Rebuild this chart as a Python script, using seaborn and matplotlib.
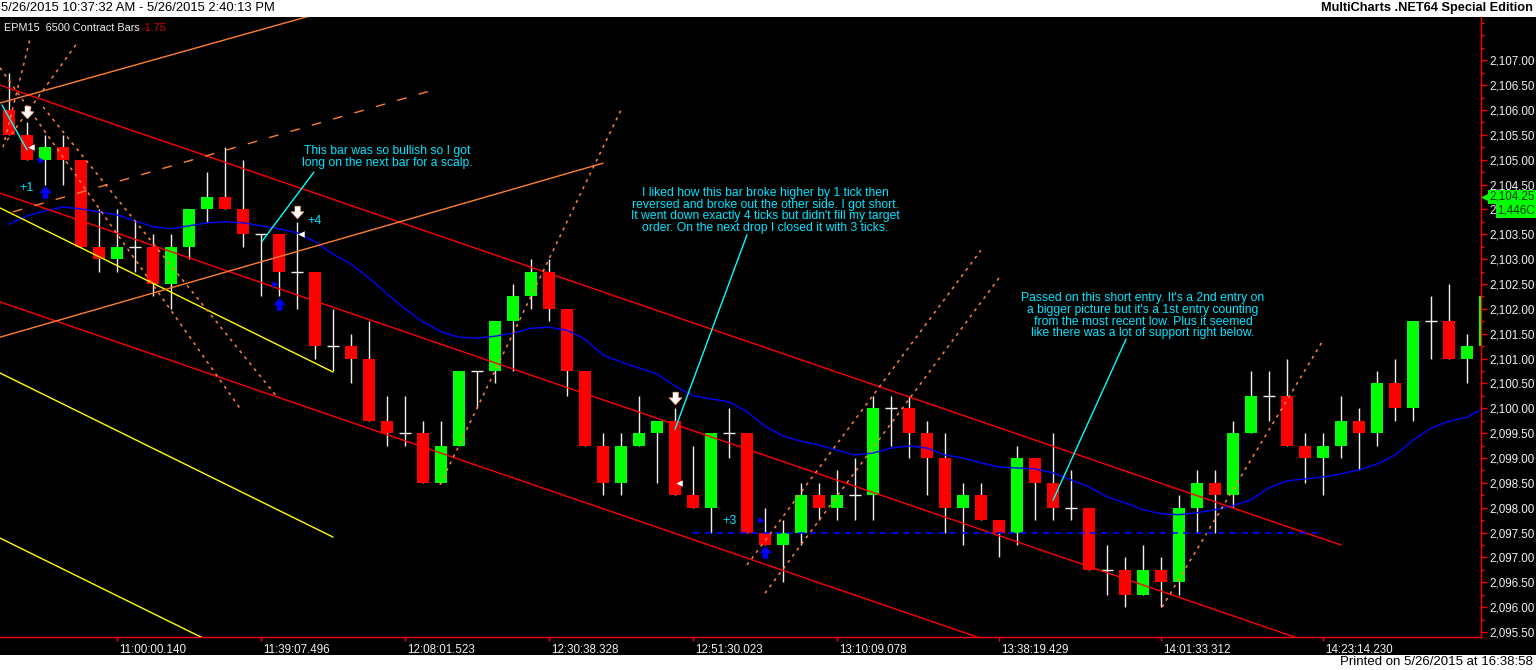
import matplotlib
matplotlib.use("Agg")
import matplotlib.pyplot as plt
import matplotlib.transforms as mtransforms
from matplotlib.patches import Rectangle
from matplotlib.ticker import FuncFormatter, MultipleLocator
import numpy as np
import pandas as pd
import seaborn as sns

# ---- EPM15 6500 contract bars ----
opens = [2106.0, 2105.5, 2105.0, 2105.25, 2105.0, 2103.25, 2103.0, 2103.25, 2103.25, 2102.5,
         2103.25, 2104.0, 2104.25, 2104.0, 2103.5, 2103.5, 2102.75, 2102.75, 2101.25, 2101.25,
         2101.0, 2099.75, 2099.5, 2099.5, 2098.5, 2099.25, 2100.75, 2100.75, 2101.75, 2102.25,
         2102.75, 2102.0, 2100.75, 2099.25, 2098.5, 2099.25, 2099.5, 2099.75, 2098.25, 2098.0,
         2099.5, 2099.5, 2097.5, 2097.25, 2097.5, 2098.25, 2098.0, 2098.25, 2098.25, 2100.0,
         2100.0, 2099.5, 2099.0, 2098.0, 2098.25, 2097.75, 2097.5, 2099.0, 2098.5, 2098.0,
         2098.0, 2096.75, 2096.75, 2096.25, 2096.75, 2096.5, 2098.0, 2098.5, 2098.25, 2099.5,
         2100.25, 2100.25, 2099.25, 2099.0, 2099.25, 2099.75, 2099.5, 2100.5, 2100.0, 2101.75,
         2101.75, 2101.0, 2101.25]
highs = [2106.75, 2105.75, 2105.5, 2105.5, 2105.0, 2104.0, 2104.0, 2103.75, 2103.5, 2103.5,
         2104.0, 2104.75, 2105.25, 2105.0, 2103.5, 2103.5, 2103.75, 2102.75, 2102.0, 2101.5,
         2101.75, 2100.25, 2100.25, 2099.75, 2099.75, 2100.75, 2100.75, 2101.75, 2102.5, 2103.0,
         2103.0, 2102.0, 2100.75, 2099.5, 2099.5, 2100.25, 2099.75, 2100.0, 2099.25, 2099.5,
         2100.0, 2099.5, 2098.0, 2097.75, 2098.5, 2098.5, 2098.75, 2099.0, 2100.25, 2100.25,
         2100.25, 2099.75, 2099.5, 2098.5, 2098.5, 2097.75, 2099.25, 2099.0, 2099.5, 2098.75,
         2098.0, 2097.25, 2097.0, 2097.25, 2097.0, 2098.25, 2098.75, 2098.75, 2099.75, 2100.75,
         2100.75, 2101.0, 2099.5, 2099.5, 2100.25, 2100.0, 2100.75, 2101.0, 2101.75, 2102.25,
         2102.5, 2101.5, 2102.25]
lows = [2105.5, 2105.0, 2104.5, 2104.5, 2103.25, 2102.75, 2102.75, 2102.75, 2102.25, 2102.0,
        2103.0, 2103.75, 2104.0, 2103.25, 2102.25, 2102.25, 2102.0, 2101.0, 2100.75, 2100.5,
        2099.75, 2099.25, 2099.25, 2098.5, 2098.5, 2099.25, 2100.0, 2100.5, 2100.75, 2102.0,
        2101.75, 2100.25, 2099.25, 2098.25, 2098.25, 2099.25, 2098.5, 2098.25, 2098.0, 2097.5,
        2099.0, 2097.5, 2097.25, 2096.5, 2097.25, 2097.75, 2097.75, 2097.75, 2097.75, 2099.25,
        2099.0, 2098.25, 2097.5, 2097.25, 2097.75, 2097.0, 2097.25, 2097.75, 2097.75, 2097.75,
        2096.75, 2096.25, 2096.0, 2096.25, 2096.0, 2096.25, 2097.5, 2097.5, 2098.0, 2099.5,
        2099.75, 2099.25, 2098.5, 2098.25, 2099.0, 2098.75, 2099.25, 2099.75, 2099.75, 2101.0,
        2101.0, 2100.5, 2101.25]
closes = [2105.5, 2105.0, 2105.25, 2105.0, 2103.25, 2103.0, 2103.25, 2103.25, 2102.5, 2103.25,
          2104.0, 2104.25, 2104.0, 2103.5, 2103.5, 2102.75, 2102.75, 2101.25, 2101.25, 2101.0,
          2099.75, 2099.5, 2099.5, 2098.5, 2099.25, 2100.75, 2100.75, 2101.75, 2102.25, 2102.75,
          2102.0, 2100.75, 2099.25, 2098.5, 2099.25, 2099.5, 2099.75, 2098.25, 2098.0, 2099.5,
          2099.5, 2097.5, 2097.25, 2097.5, 2098.25, 2098.0, 2098.25, 2098.25, 2100.0, 2100.0,
          2099.5, 2099.0, 2098.0, 2098.25, 2097.75, 2097.5, 2099.0, 2098.5, 2098.0, 2098.0,
          2096.75, 2096.75, 2096.25, 2096.75, 2096.5, 2098.0, 2098.5, 2098.25, 2099.5, 2100.25,
          2100.25, 2099.25, 2099.0, 2099.25, 2099.75, 2099.5, 2100.5, 2100.0, 2101.75, 2101.75,
          2101.0, 2101.25, 2102.25]

# moving average (blue line), one value per bar
ma_values = [2103.70, 2103.87, 2103.97, 2104.05, 2104.01, 2103.95, 2103.89, 2103.77, 2103.65, 2103.61,
             2103.67, 2103.73, 2103.75, 2103.73, 2103.67, 2103.61, 2103.53, 2103.35, 2103.10, 2102.90,
             2102.62, 2102.30, 2102.00, 2101.74, 2101.54, 2101.43, 2101.41, 2101.45, 2101.51, 2101.61,
             2101.63, 2101.57, 2101.39, 2101.07, 2100.93, 2100.81, 2100.69, 2100.45, 2100.25, 2100.19,
             2100.13, 2099.93, 2099.64, 2099.44, 2099.34, 2099.26, 2099.16, 2099.06, 2099.10, 2099.20,
             2099.24, 2099.20, 2099.06, 2099.00, 2098.90, 2098.82, 2098.80, 2098.78, 2098.70, 2098.56,
             2098.42, 2098.22, 2098.10, 2097.96, 2097.88, 2097.86, 2097.90, 2097.96, 2098.04, 2098.16,
             2098.40, 2098.54, 2098.58, 2098.62, 2098.68, 2098.76, 2098.88, 2099.06, 2099.36, 2099.60,
             2099.74, 2099.82, 2100.02]

time_ticks = [6, 14, 22, 30, 38, 46, 55, 64, 73]
time_labels = ["11:00:00.140", "11:39:07.496", "12:08:01.523", "12:30:38.328", "12:51:30.023",
               "13:10:09.078", "13:38:19.429", "14:01:33.312", "14:23:14.230"]

# drawing tools: (bar, price) end points
red_lines = [((-0.5, 2106.50), (74.0, 2097.25)),
             ((-0.5, 2104.33), (74.0, 2095.08)),
             ((-0.5, 2102.14), (74.0, 2092.89))]
orange_lines = [((-0.5, 2106.14), (17.0, 2107.92)),
                ((-0.5, 2101.43), (33.0, 2104.93))]
orange_dashed = [((0.22, 2103.95), (23.94, 2106.44))]
orange_dotted = [((-0.5, 2106.85), (12.83, 2100.0)),
                 ((1.89, 2106.06), (14.89, 2100.23)),
                 ((-0.33, 2105.25), (1.17, 2107.43)),
                 ((-0.11, 2105.39), (3.83, 2107.37)),
                 ((23.94, 2098.46), (34.0, 2106.0)),
                 ((41.0, 2096.85), (54.0, 2103.18)),
                 ((42.0, 2096.28), (55.0, 2102.62)),
                 ((64.06, 2096.0), (72.94, 2101.33))]
yellow_lines = [((-0.5, 2104.03), (18.0, 2100.73)),
                ((-0.5, 2100.71), (18.0, 2097.41)),
                ((-0.5, 2097.39), (18.0, 2094.09))]
cyan_lines = [((-0.39, 2106.1), (1.0, 2105.2)),
              ((16.94, 2104.75), (14.06, 2103.36)),
              ((41.0, 2103.49), (37.0, 2099.58)),
              ((62.06, 2101.39), (58.0, 2098.15))]
target_level = 2097.5
target_span = (38.0, 72.8)

# trades
entry_bars = [2, 15, 42]
entry_prices = [2105.0, 2102.5, 2097.75]
exit_bars = [1, 16, 37]
exit_prices = [2105.25, 2103.5, 2098.5]
profit_labels = ["+1", "+4", "+3"]
profit_pos = [(0.97, 2104.43), (17.0, 2103.77), (40.0, 2097.73)]

notes = ["This bar was so bullish so I got\nlong on the next bar for a scalp.",
         "I liked how this bar broke higher by 1 tick then\nreversed and broke out the other side. I got short.\n"
         "It went down exactly 4 ticks but didn't fill my target\norder. On the next drop I closed it with 3 ticks.",
         "Passed on this short entry. It's a 2nd entry on\na bigger picture but it's a 1st entry counting\n"
         "from the most recent low. Plus it seemed\nlike there was a lot of support right below."]
note_pos = [(21.0, 2105.06), (42.0, 2103.98), (63.0, 2101.86)]

last_price = 2104.25
volume_text = "1,446C"

sns.set_theme(style="dark")
plt.rcParams["font.family"] = ["Liberation Sans", "DejaVu Sans"]

W, H = 1536, 670
fig = plt.figure(figsize=(W / 100, H / 100), dpi=100, facecolor="white")
fig.patches.append(Rectangle((0, 15 / H), 1, (655 - 17) / H, transform=fig.transFigure,
                             facecolor="black", edgecolor="none", zorder=-10))
ax = fig.add_axes([0, (H - 637) / H, 1481 / W, 620 / H])
ax.set_facecolor("black")

bars = np.arange(len(opens))
o = np.array(opens)
c = np.array(closes)

# wicks
ax.vlines(bars, lows, highs, color="#f4f0f0", lw=1, zorder=2)
# bodies
up = c > o
dn = c < o
ax.bar(bars[up], (c - o)[up], bottom=o[up], width=0.72, color="#00ff00", lw=0, zorder=3)
ax.bar(bars[dn], (o - c)[dn], bottom=c[dn], width=0.72, color="#ff0000", lw=0, zorder=3)
doji = c == o
ax.hlines(c[doji], bars[doji] - 0.36, bars[doji] + 0.36, color="#f4f0f0", lw=1, zorder=3)

# moving average
df = pd.DataFrame({"bar": bars, "ma": ma_values})
sns.lineplot(data=df, x="bar", y="ma", ax=ax, color="#0000ff", lw=1, zorder=5, legend=False)


def draw(lines, **kw):
    for (x0, y0), (x1, y1) in lines:
        ax.plot([x0, x1], [y0, y1], zorder=6, **kw)


draw(red_lines, color="#ff0000", lw=1)
draw(yellow_lines, color="#ffff00", lw=1)
draw(orange_lines, color="#ff7f30", lw=1)
draw(orange_dashed, color="#ff7f30", lw=1, ls=(0, (7, 9)))
draw(orange_dotted, color="#ff8040", lw=1.1, ls=(0, (2, 3)))
draw(cyan_lines, color="#00ffff", lw=1)
ax.hlines(target_level, *target_span, color="#0000ff", lw=1.2, ls=(0, (4, 3)), zorder=6)

# trade markers
down_arrow = [(-0.22, 0.5), (0.22, 0.5), (0.22, 0.05), (0.5, 0.05), (0.0, -0.5), (-0.5, 0.05), (-0.22, 0.05)]
up_arrow = [(x, -y) for x, y in down_arrow]
ax.scatter(exit_bars, np.array(highs)[exit_bars] + 0.2, marker=down_arrow, s=80,
           color="white", edgecolor="#ffb090", lw=0.6, zorder=8)
ax.scatter(entry_bars, np.array(lows)[entry_bars] - 0.15, marker=up_arrow, s=80,
           color="#0000ff", lw=0, zorder=8)
ax.scatter(np.array(entry_bars) - 0.25, entry_prices, marker=">", s=22, color="#0000ff", lw=0, zorder=8)
ax.scatter(np.array(exit_bars) + 0.2, exit_prices, marker="<", s=22, color="white", lw=0, zorder=8)

for lab, (x, y) in zip(profit_labels, profit_pos):
    ax.text(x, y, lab, color="#00e5ff", fontsize=9, ha="center", va="center", zorder=9)
for txt, (x, y) in zip(notes, note_pos):
    ax.text(x, y, txt, color="#00e5ff", fontsize=8.7, ha="center", va="center",
            linespacing=0.97, zorder=9)

# axes, scales
ax.set_xlim(-0.5, (1481 - 9) / 18)
ax.set_ylim(2095.40, 2107.87)
ax.set_xlabel("")
ax.set_ylabel("")
ax.grid(False)
for side in ["top", "left"]:
    ax.spines[side].set_visible(False)
for side in ["bottom", "right"]:
    ax.spines[side].set_visible(True)
    ax.spines[side].set_color("#ff0000")
    ax.spines[side].set_linewidth(1)

ax.yaxis.tick_right()
ax.set_yticks(np.arange(2095.5, 2107.01, 0.5))
ax.yaxis.set_minor_locator(MultipleLocator(0.25))
ax.yaxis.set_major_formatter(FuncFormatter(lambda v, p: f"{v:,.2f}"))
ax.tick_params(axis="y", which="major", color="#ff0000", labelcolor="#f0f0f0",
               length=4, width=1, pad=2, labelsize=8.4, right=True, left=False)
ax.tick_params(axis="y", which="minor", color="#ff0000", length=2, width=1, right=True, left=False)

ax.set_xticks(time_ticks)
ax.set_xticklabels(time_labels)
ax.tick_params(axis="x", color="#ff0000", labelcolor="#f0f0f0", length=3, width=1,
               pad=2, labelsize=8.4, bottom=True)
shift = mtransforms.ScaledTranslation(2 / 100, 0, fig.dpi_scale_trans)
for lab in ax.get_xticklabels():
    lab.set_horizontalalignment("left")
    lab.set_transform(lab.get_transform() + shift)

# last price and volume tags on the price scale
side_tr = mtransforms.blended_transform_factory(fig.transFigure, ax.transData)
ax.plot([1485 / W], [last_price], marker="<", ms=5, color="#00ff00", transform=side_tr,
        clip_on=False, zorder=10)
ax.text(1489 / W, last_price, f"{last_price:,.2f}", transform=side_tr, color="#003300",
        fontsize=8.4, ha="left", va="center", clip_on=False, zorder=10,
        bbox=dict(boxstyle="square,pad=0.12", fc="#00ff00", ec="none"))
ax.text(1497 / W, last_price - 0.28, volume_text, transform=side_tr, color="#003300",
        fontsize=8.4, ha="left", va="center", clip_on=False, zorder=10,
        bbox=dict(boxstyle="square,pad=0.12", fc="#00ff00", ec="none"))

# window texts
fig.text(1 / W, 1 - 8 / H, "5/26/2015 10:37:32 AM - 5/26/2015 2:40:13 PM", fontsize=9.4,
         color="black", ha="left", va="center")
fig.text(1533 / W, 1 - 8 / H, "MultiCharts .NET64 Special Edition", fontsize=9.2,
         weight="bold", color="black", ha="right", va="center")
fig.text(1533 / W, 1 - 662 / H, "Printed on 5/26/2015 at 16:38:58", fontsize=9.5,
         color="black", ha="right", va="center")
fig.text(4 / W, 1 - 28 / H, "EPM15  6500 Contract Bars", fontsize=7.8, color="#f0f0f0",
         ha="left", va="center")
fig.text(142 / W, 1 - 28 / H, "-1.75", fontsize=7.8, color="#e00000", ha="left", va="center")

fig.savefig("out.png", dpi=100, facecolor="white")
